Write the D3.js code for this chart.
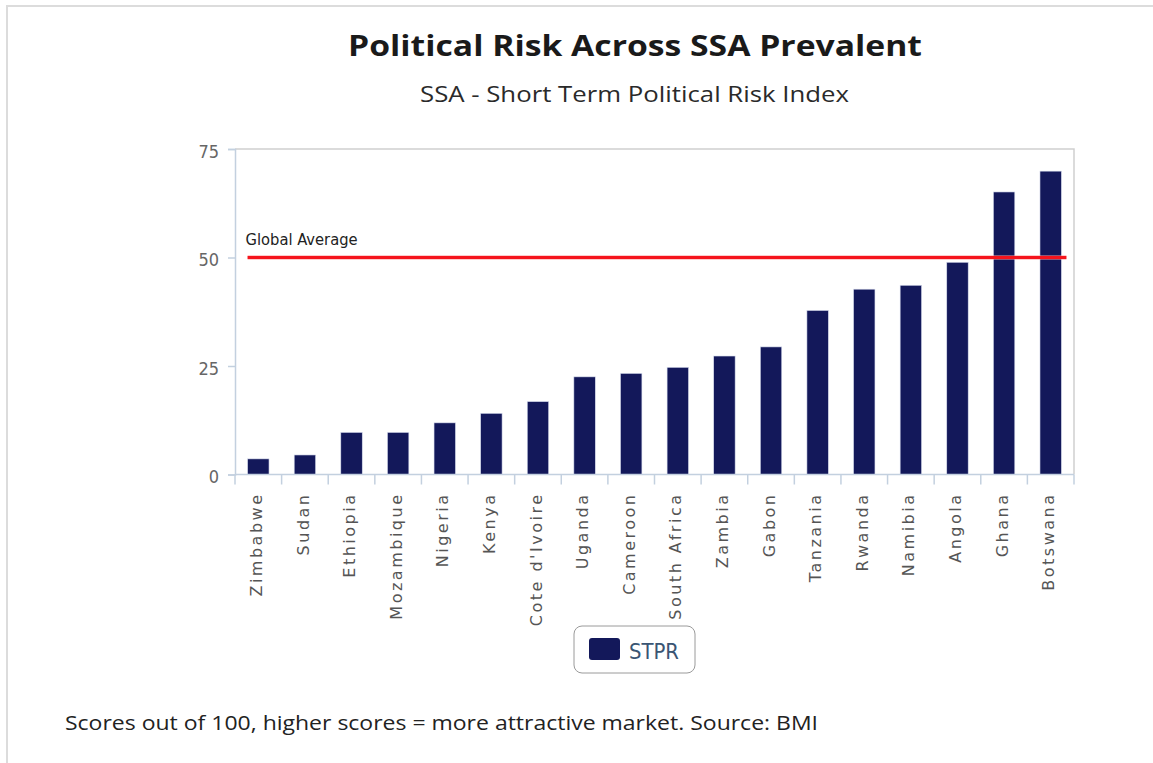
<!DOCTYPE html>
<html>
<head>
<meta charset="utf-8">
<script src="https://cdn.jsdelivr.net/npm/d3@7"></script>
<style>
  html, body { margin: 0; padding: 0; background: #fff; }
  svg { display: block; }
</style>
</head>
<body>
<svg id="chart" width="1153" height="763"></svg>
<script>
// Short Term Political Risk Index scores by country (out of 100)
const countries = ["Zimbabwe", "Sudan", "Ethiopia", "Mozambique", "Nigeria", "Kenya",
  "Cote d'Ivoire", "Uganda", "Cameroon", "South Africa", "Zambia", "Gabon",
  "Tanzania", "Rwanda", "Namibia", "Angola", "Ghana", "Botswana"];
const stpr = [3.6, 4.5, 9.7, 9.7, 11.9, 14.1, 16.8, 22.5, 23.3, 24.7, 27.3, 29.4,
  37.8, 42.7, 43.6, 48.9, 65.1, 69.9];
const yTicks = [0, 25, 50, 75];
const globalAverage = 50;

const svg = d3.select("#chart");
const W = 1153, H = 763;
const plot = { left: 235, right: 1074, top: 149, bottom: 474.5 };
const navy = "#13185a";

// outer panel frame
svg.append("rect")
  .attr("x", 7).attr("y", 6).attr("width", W + 10).attr("height", H + 10)
  .attr("fill", "none").attr("stroke", "#dcdcdc").attr("stroke-width", 2);

// titles
svg.append("text")
  .attr("x", 635).attr("y", 56).attr("text-anchor", "middle")
  .attr("font-family", "'Open Sans', sans-serif").attr("font-weight", 700)
  .attr("font-size", 29).attr("fill", "#1a1a1a")
  .attr("textLength", 574).attr("lengthAdjust", "spacingAndGlyphs")
  .text("Political Risk Across SSA Prevalent");

svg.append("text")
  .attr("x", 634.5).attr("y", 102).attr("text-anchor", "middle")
  .attr("font-family", "'Open Sans', sans-serif").attr("font-weight", 500)
  .attr("font-size", 21).attr("fill", "#2a2a2a")
  .attr("textLength", 429).attr("lengthAdjust", "spacingAndGlyphs")
  .text("SSA - Short Term Political Risk Index");

// scales
const x = d3.scaleBand()
  .domain(countries)
  .range([plot.left, plot.right])
  .paddingInner(0.54)
  .paddingOuter(0.27);
const y = d3.scaleLinear().domain([0, 75]).range([plot.bottom, plot.top]);

// plot frame: top and right edges
svg.append("path")
  .attr("d", `M${plot.left},${plot.top}H${plot.right}V${plot.bottom}`)
  .attr("fill", "none").attr("stroke", "#cfcfcf").attr("stroke-width", 1.5);

// y axis
const yAxis = svg.append("g").attr("transform", `translate(${plot.left},0)`)
  .call(d3.axisLeft(y).tickValues(yTicks).tickSize(7).tickPadding(9));
yAxis.select(".domain").attr("stroke", "#c3d0df").attr("stroke-width", 1.5);
yAxis.selectAll(".tick line").attr("stroke", "#c3d0df").attr("stroke-width", 1.5);
yAxis.selectAll(".tick text")
  .attr("font-family", "'DejaVu Sans Condensed', 'DejaVu Sans', sans-serif")
  .attr("font-size", 18).attr("fill", "#666").attr("dy", "0.45em");

// bars
svg.append("g").selectAll("rect")
  .data(countries.map((c, i) => ({ c, v: stpr[i] })))
  .join("rect")
  .attr("x", d => x(d.c))
  .attr("y", d => y(d.v))
  .attr("width", x.bandwidth())
  .attr("height", d => y(0) - y(d.v))
  .attr("fill", navy)
  .attr("stroke", "#d9deee").attr("stroke-width", 0.6);

// x axis: baseline with ticks on category boundaries
const step = x.step();
const xg = svg.append("g");
xg.append("line")
  .attr("x1", plot.left).attr("x2", plot.right)
  .attr("y1", plot.bottom).attr("y2", plot.bottom)
  .attr("stroke", "#c3d0df").attr("stroke-width", 1.5);
xg.selectAll("line.tick")
  .data(d3.range(countries.length + 1))
  .join("line").attr("class", "tick")
  .attr("x1", i => plot.left + i * step).attr("x2", i => plot.left + i * step)
  .attr("y1", plot.bottom).attr("y2", plot.bottom + 10)
  .attr("stroke", "#c3d0df").attr("stroke-width", 1.5);
xg.selectAll("text")
  .data(countries)
  .join("text")
  .attr("transform", d => `translate(${x(d) + x.bandwidth() / 2 - 2},${plot.bottom + 18}) rotate(-90)`)
  .attr("text-anchor", "end")
  .attr("dy", "0.35em")
  .attr("font-family", "'DejaVu Sans', sans-serif")
  .attr("font-size", 16).attr("letter-spacing", 2.5)
  .attr("fill", "#555")
  .text(d => d);

// global average reference line
const avgX1 = x(countries[0]);
const avgX2 = x(countries[countries.length - 1]) + x.bandwidth() + 5;
svg.append("line")
  .attr("x1", avgX1).attr("x2", avgX2)
  .attr("y1", y(globalAverage)).attr("y2", y(globalAverage))
  .attr("stroke", "#ff9a9a").attr("stroke-width", 5).attr("opacity", 0.5);
svg.append("line")
  .attr("x1", avgX1).attr("x2", avgX2)
  .attr("y1", y(globalAverage)).attr("y2", y(globalAverage))
  .attr("stroke", "#f5141c").attr("stroke-width", 3);
svg.append("text")
  .attr("x", avgX1 - 2).attr("y", y(globalAverage) - 13)
  .attr("font-family", "'DejaVu Sans Condensed', 'DejaVu Sans', sans-serif")
  .attr("font-size", 15).attr("fill", "#222")
  .attr("textLength", 112).attr("lengthAdjust", "spacingAndGlyphs")
  .text("Global Average");

// legend
const lg = svg.append("g");
lg.append("rect")
  .attr("x", 574).attr("y", 626).attr("width", 121).attr("height", 47).attr("rx", 8)
  .attr("fill", "#fff").attr("stroke", "#9a9a9a").attr("stroke-width", 1);
lg.append("rect")
  .attr("x", 589).attr("y", 638).attr("width", 31).attr("height", 22).attr("rx", 3)
  .attr("fill", navy);
lg.append("text")
  .attr("x", 629).attr("y", 659)
  .attr("font-family", "'DejaVu Sans Condensed', 'DejaVu Sans', sans-serif")
  .attr("font-size", 22).attr("fill", "#3a5573")
  .attr("textLength", 50).attr("lengthAdjust", "spacingAndGlyphs")
  .text("STPR");

// footnote
svg.append("text")
  .attr("x", 65).attr("y", 730)
  .attr("font-family", "'Open Sans', sans-serif").attr("font-weight", 500)
  .attr("font-size", 19.5).attr("fill", "#222")
  .attr("textLength", 753).attr("lengthAdjust", "spacingAndGlyphs")
  .text("Scores out of 100, higher scores = more attractive market. Source: BMI");
</script>
</body>
</html>
